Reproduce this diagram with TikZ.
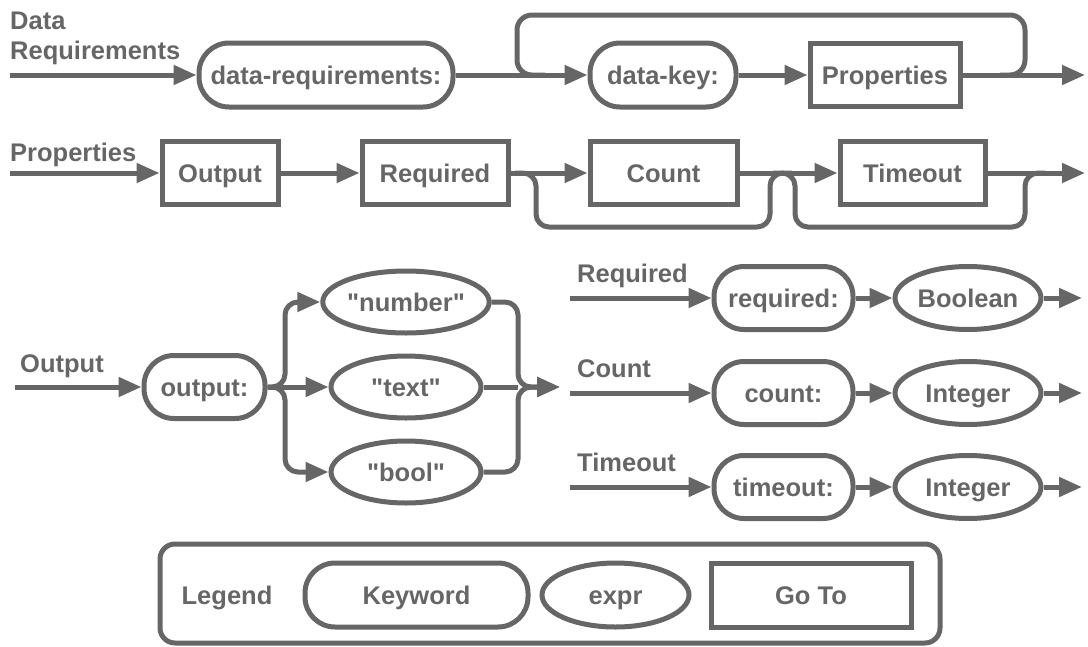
\documentclass[tikz,border=0pt]{standalone}
\usepackage{fontspec}
\setmainfont{Liberation Sans}
\newfontfamily\qfont{Liberation Sans}[Ligatures=TeXOff]
\usetikzlibrary{arrows.meta,shapes.geometric}
\definecolor{dg}{HTML}{666666}
\begin{document}
\begin{tikzpicture}[x=1pt,y=-1pt,
  every node/.style={font=\fontsize{25.5}{29}\selectfont\bfseries, text=dg},
  ln/.style={draw=dg, line width=5pt},
  arr/.style={ln, -{Triangle[length=23pt,width=19pt]}},
  shp/.style={draw=dg, line width=5pt, inner sep=0pt, text height=18.3pt, text depth=0pt},
  kw/.style={shp, rectangle, rounded corners=30pt, minimum height=64pt},
  ex/.style={shp, ellipse, minimum height=64pt},
  gt/.style={shp, rectangle, minimum height=63pt},
  lab/.style={anchor=west, inner sep=0pt, text height=18.3pt, text depth=0pt},
  byp/.style={ln, rounded corners=13pt},
]
\useasboundingbox (0,0) rectangle (1088,646);

% ---------- Row 1 ----------
\node[lab] (ldata) at (10,20) {Data};
\node[lab] (lreq) at (10,50) {Requirements};
\node[kw, minimum width=254pt] (datareq) at (326,75) {data-requirements:};
\node[kw, minimum width=146pt] (datakey) at (663,75) {data-key:};
\node[gt, minimum width=150pt] (props) at (885,75) {Properties};
\coordinate (s1) at (10,75);
\coordinate (e1) at (1085,75);
\coordinate (l1) at (545,75);
\coordinate (l2) at (517,75);
\coordinate (l3) at (517,15);
\coordinate (l4) at (1025,15);
\coordinate (l5) at (1025,75);
\coordinate (l6) at (1000,75);
\draw[arr] (s1) -- (datareq.west);
\draw[arr] (datareq.east) -- (datakey.west);
\draw[arr] (datakey.east) -- (props.west);
\draw[arr] (props.east) -- (e1);
\draw[byp, rounded corners=15pt] (l1) -- (l2) -- (l3) -- (l4) -- (l5) -- (l6);

% ---------- Row 2 ----------
\node[lab] (lprops) at (10,152) {Properties};
\node[gt, minimum width=116pt] (outbox) at (220,173) {Output};
\node[gt, minimum width=146pt] (reqbox) at (435,173) {Required};
\node[gt, minimum width=147pt] (cntbox) at (663.5,173) {Count};
\node[gt, minimum width=145pt] (tobox) at (912.5,173) {Timeout};
\coordinate (s2) at (10,173);
\coordinate (e2) at (1085,173);
\draw[arr] (s2) -- (outbox.west);
\draw[arr] (outbox.east) -- (reqbox.west);
\draw[arr] (reqbox.east) -- (cntbox.west);
\draw[arr] (cntbox.east) -- (tobox.west);
\draw[arr] (tobox.east) -- (e2);
\coordinate (a1) at (515,173);
\coordinate (a2) at (536,173);
\coordinate (a3) at (536,227);
\coordinate (a4) at (770,227);
\coordinate (a5) at (770,173);
\coordinate (a6) at (792,173);
\draw[byp] (a1) -- (a2) -- (a3) -- (a4) -- (a5) -- (a6);
\coordinate (b1) at (773,173);
\coordinate (b2) at (795,173);
\coordinate (b3) at (795,227);
\coordinate (b4) at (1025,227);
\coordinate (b5) at (1025,173);
\coordinate (b6) at (1045,173);
\draw[byp] (b1) -- (b2) -- (b3) -- (b4) -- (b5) -- (b6);

% ---------- Output definition ----------
\node[lab] (loutput) at (20,363) {Output};
\node[kw, minimum width=121pt, minimum height=63pt] (outkw) at (204.5,387) {output:};
\node[ex, minimum width=150pt, minimum height=62pt] (number) at (406,302) {\qfont "number"};
\node[ex, minimum width=150pt, minimum height=62pt] (textv) at (406,387) {\qfont "text"};
\node[ex, minimum width=150pt, minimum height=62pt] (boolv) at (406,472) {\qfont "bool"};
\coordinate (s3) at (15,387);
\coordinate (br) at (285,387);
\coordinate (brt) at (285,302);
\coordinate (brb) at (285,472);
\coordinate (mg) at (518,387);
\coordinate (mgt) at (518,302);
\coordinate (mgb) at (518,472);
\coordinate (e3) at (560,387);
\draw[arr] (s3) -- (outkw.west);
\draw[arr] (outkw.east) -- (textv.west);
\draw[arr, rounded corners=13pt] (outkw.east) -- (br) -- (brt) -- (number.west);
\draw[arr, rounded corners=13pt] (outkw.east) -- (br) -- (brb) -- (boolv.west);
\draw[ln] (textv.east) -- (mg);
\draw[arr, rounded corners=13pt] (number.east) -- (mgt) -- (mg) -- (e3);
\draw[arr, rounded corners=13pt] (boolv.east) -- (mgb) -- (mg) -- (e3);

% ---------- Required / Count / Timeout ----------
\node[lab] (lrq) at (577,273) {Required};
\node[lab] (lct) at (577,368) {Count};
\node[lab] (lto) at (577,462) {Timeout};
\node[kw, minimum width=139pt, minimum height=63pt] (reqkw) at (783.5,298) {required:};
\node[kw, minimum width=139pt, minimum height=63pt] (cntkw) at (783.5,393) {count:};
\node[kw, minimum width=139pt, minimum height=63pt] (tokw) at (783.5,487) {timeout:};
\node[ex, minimum width=146pt, minimum height=63pt] (boolean) at (968,298) {Boolean};
\node[ex, minimum width=146pt, minimum height=63pt] (int1) at (968,393) {Integer};
\node[ex, minimum width=146pt, minimum height=63pt] (int2) at (968,487) {Integer};
\coordinate (s4) at (570,298);
\coordinate (s5) at (570,393);
\coordinate (s6) at (570,487);
\coordinate (e4) at (1082,298);
\coordinate (e5) at (1082,393);
\coordinate (e6) at (1082,487);
\draw[arr] (s4) -- (reqkw.west);
\draw[arr] (reqkw.east) -- (boolean.west);
\draw[arr] (boolean.east) -- (e4);
\draw[arr] (s5) -- (cntkw.west);
\draw[arr] (cntkw.east) -- (int1.west);
\draw[arr] (int1.east) -- (e5);
\draw[arr] (s6) -- (tokw.west);
\draw[arr] (tokw.east) -- (int2.west);
\draw[arr] (int2.east) -- (e6);

% ---------- Legend ----------
\node[draw=dg, line width=5pt, rounded corners=15pt, minimum width=780pt, minimum height=99pt, inner sep=0pt] (legend) at (550,593.5) {};
\node[shp, draw=none] (legtext) at (227,595) {Legend};
\node[kw, minimum width=223pt] (legkw) at (416.5,595) {Keyword};
\node[ex, minimum width=147pt] (legex) at (615.5,595) {expr};
\node[gt, minimum width=200pt, minimum height=64pt] (leggt) at (811,595) {Go To};
\end{tikzpicture}
\end{document}
